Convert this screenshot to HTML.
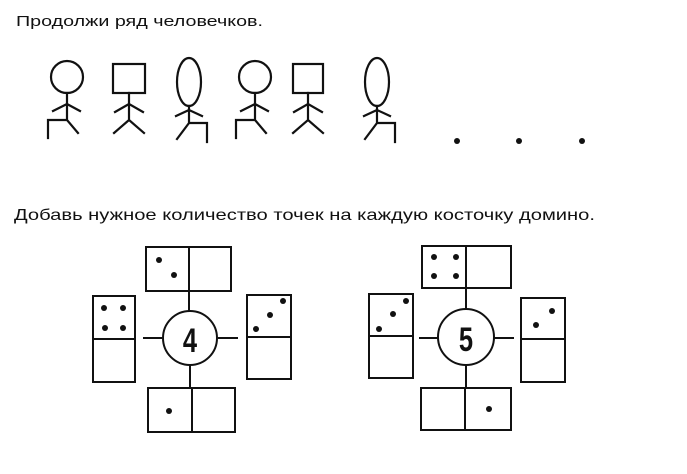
<!DOCTYPE html>
<html><head><meta charset="utf-8"><style>html,body{margin:0;padding:0;background:#fff}</style></head>
<body>
<svg width="687" height="469" viewBox="0 0 687 469" xmlns="http://www.w3.org/2000/svg" font-family="Liberation Sans, sans-serif">
<text x="16" y="26" font-size="15" textLength="247" lengthAdjust="spacingAndGlyphs" fill="#111">Продолжи ряд человечков.</text>
<text x="14" y="220" font-size="16" textLength="581" lengthAdjust="spacingAndGlyphs" fill="#111">Добавь нужное количество точек на каждую косточку домино.</text>
<g stroke="#111" stroke-width="2.2" fill="none" stroke-linecap="square">
<circle cx="67" cy="77" r="16"/>
<path d="M67 93V120M67 104L53 111M67 104L80 111M67 120L78 133M67 120H48V138"/>
<rect x="113" y="64" width="32" height="29"/>
<path d="M129 93V120M129 104L115 112M129 104L143 112M129 120L114 133M129 120L144 133"/>
<ellipse cx="189" cy="82" rx="12" ry="24"/>
<path d="M189 106V123M189 110L176 116M189 110L202 116M189 123L177 139M189 123H207V142"/>
<circle cx="255" cy="77" r="16"/>
<path d="M255 93V120M255 104L241 111M255 104L268 111M255 120L266 133M255 120H236V138"/>
<rect x="293" y="64" width="30" height="29"/>
<path d="M308 93V120M308 104L294 112M308 104L322 112M308 120L293 133M308 120L323 133"/>
<ellipse cx="377" cy="82" rx="12" ry="24"/>
<path d="M377 106V123M377 110L364 116M377 110L390 116M377 123L365 139M377 123H395V142"/>
</g>
<g fill="#111">
<circle cx="457" cy="141" r="3"/><circle cx="519" cy="141" r="3"/><circle cx="582" cy="141" r="3"/>
</g>
<g stroke="#111" stroke-width="2" fill="none">
<rect x="146" y="247" width="85" height="44"/><path d="M189 247V291"/>
<rect x="93" y="296" width="42" height="86"/><path d="M93 339H135"/>
<circle cx="190" cy="338" r="27"/>
<rect x="247" y="295" width="44" height="84"/><path d="M247 337H291"/>
<rect x="148" y="388" width="87" height="44"/><path d="M192 388V432"/>
<path d="M189 291V311M143 338H162M218 338H238M190 365V388"/>
<rect x="422" y="246" width="89" height="42"/><path d="M466 246V288"/>
<rect x="369" y="294" width="44" height="84"/><path d="M369 336H413"/>
<circle cx="466" cy="337" r="28"/>
<rect x="521" y="298" width="44" height="84"/><path d="M521 339H565"/>
<rect x="421" y="388" width="90" height="42"/><path d="M465 388V430"/>
<path d="M466 288V309M419 338H438M494 338H514M466 365V388"/>
</g>
<g fill="#111">
<circle cx="159" cy="260" r="3"/><circle cx="174" cy="275" r="3"/>
<circle cx="104" cy="308" r="3"/><circle cx="123" cy="308" r="3"/><circle cx="105" cy="328" r="3"/><circle cx="123" cy="328" r="3"/>
<circle cx="256" cy="329" r="3"/><circle cx="270" cy="315" r="3"/><circle cx="283" cy="301" r="3"/>
<circle cx="169" cy="411" r="3"/>
<circle cx="434" cy="257" r="3"/><circle cx="456" cy="257" r="3"/><circle cx="434" cy="276" r="3"/><circle cx="456" cy="276" r="3"/>
<circle cx="379" cy="329" r="3"/><circle cx="393" cy="314" r="3"/><circle cx="406" cy="301" r="3"/>
<circle cx="536" cy="325" r="3"/><circle cx="552" cy="311" r="3"/>
<circle cx="489" cy="409" r="3"/>
</g>
<text transform="translate(190 352) scale(0.85 1.15)" font-size="30" font-weight="bold" text-anchor="middle" fill="#111">4</text>
<text transform="translate(466 351) scale(0.85 1.15)" font-size="30" font-weight="bold" text-anchor="middle" fill="#111">5</text>
</svg>
</body></html>
